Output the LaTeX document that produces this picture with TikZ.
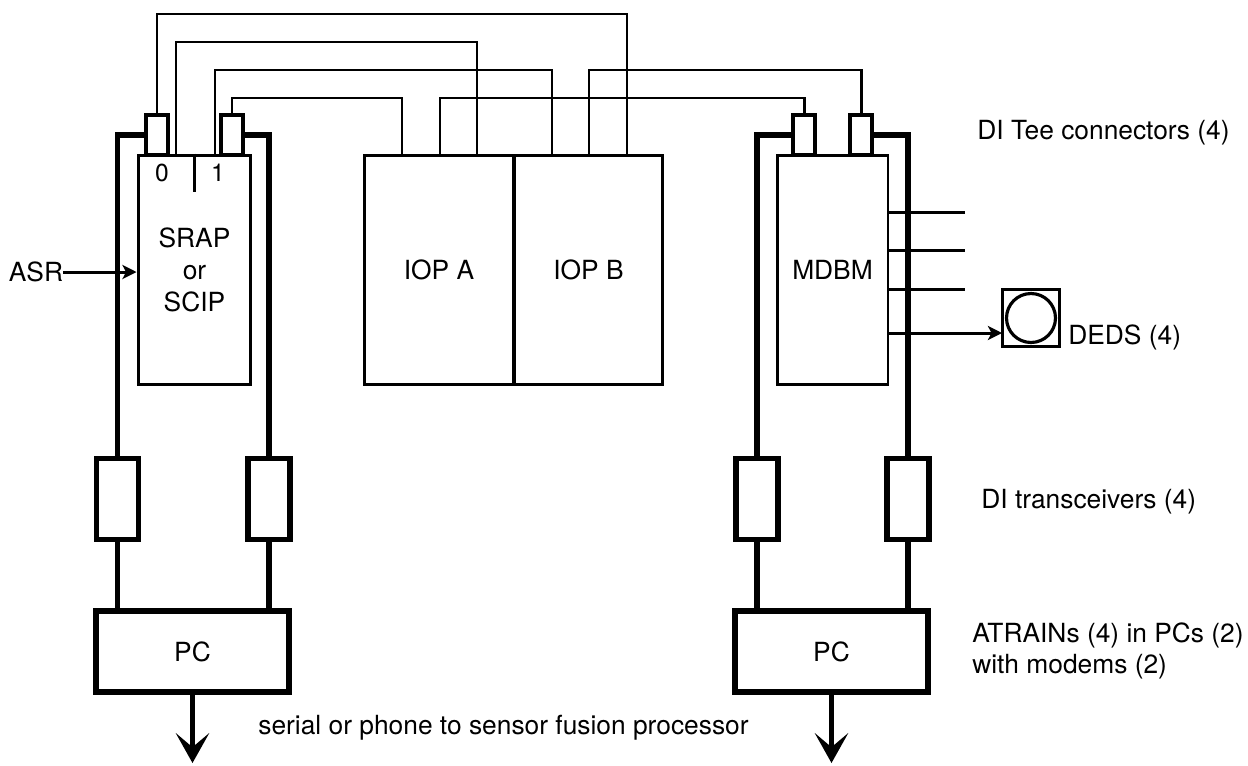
\documentclass[tikz,border=0pt]{standalone}
\usepackage{fontspec}
\setmainfont{TeX Gyre Heros}
\usetikzlibrary{arrows.meta}
\begin{document}
\begin{tikzpicture}[x=0.02cm, y=-0.02cm, every node/.style={font=\fontsize{15}{18}\selectfont, inner sep=0pt},
    box/.style={draw, line width=1.7pt, align=center, minimum height=4.6cm},
    conn/.style={draw, line width=2.4pt, minimum width=0.44cm, minimum height=0.8cm},
    xcvr/.style={draw, line width=3pt, minimum width=0.84cm, minimum height=1.62cm},
    pcbox/.style={draw, line width=3pt, minimum width=3.86cm, minimum height=1.62cm},
    wire/.style={line width=1.7pt}, frame/.style={line width=3.2pt},
    big/.style={-{Stealth[length=17pt, width=19pt, inset=8pt]}},
    small/.style={-{Stealth[length=8pt, width=8pt, inset=2pt]}}]
        \useasboundingbox (0,0) rectangle (1248,765);
        \node[box, minimum width=2.26cm] (srap) at (194.5,270) {SRAP\\or\\SCIP};
        \node[box, minimum width=3cm] (iopa) at (439,270) {IOP A};
        \node[box, minimum width=2.98cm] (iopb) at (588.5,270) {IOP B};
        \node[box, minimum width=2.22cm] (mdbm) at (832.5,270) {MDBM};
        \node[conn] (c0) at (157,135) {};
        \node[conn] (c1) at (232,135) {};
        \node[conn] (c2) at (804,135) {};
        \node[conn] (c3) at (861,135) {};
        \node[xcvr] (t0) at (117.5,499) {};
        \node[xcvr] (t1) at (269,499) {};
        \node[xcvr] (t2) at (757,499) {};
        \node[xcvr] (t3) at (908,499) {};
        \node[pcbox] (pc0) at (192.5,651.5) {PC};
        \node[pcbox] (pc1) at (831.5,651.5) {PC};
        \node[draw, line width=1.8pt, minimum size=1.14cm] (deds) at (1031,318) {};
        \node[draw, circle, line width=1.8pt, minimum size=0.98cm] (dedsc) at (deds.center) {};
        \node (n0) at (162,173) {\fontsize{14}{16}\selectfont 0};
        \node (n1) at (218,173) {\fontsize{14}{16}\selectfont 1};
        \node (asr) at (36,272) {ASR};
        \node[anchor=west] (tee) at (977,133) {DI Tee connectors (4)};
        \node[anchor=west] (dedsl) at (1068,337) {DEDS (4)};
        \node[anchor=west] (xcvrl) at (981,502) {DI transceivers (4)};
        \node[anchor=west, align=left] (atrain) at (972,651) {ATRAINs (4) in PCs (2)\\with modems (2)};
        \node[anchor=west] (serial) at (258,728) {serial or phone to sensor fusion processor};
        \coordinate (y1) at (0,14);
        \coordinate (y2) at (0,42);
        \coordinate (y3) at (0,70);
        \coordinate (y4) at (0,98);
        \coordinate (s1) at (176,155);
        \coordinate (s2) at (215,155);
        \coordinate (a1) at (402,155);
        \coordinate (a2) at (440,155);
        \coordinate (a3) at (477,155);
        \coordinate (b1) at (552,155);
        \coordinate (b2) at (589,155);
        \coordinate (b3) at (627,155);
        \coordinate (tee1) at (965,212);
        \coordinate (tee2) at (965,250);
        \coordinate (tee3) at (965,289);
        \coordinate (dedsin) at (1002,333);
        \coordinate (out0) at (192.5,763);
        \coordinate (out1) at (831.5,763);
        \draw[frame] (c0.west) -| (t0.north);
        \draw[frame] (c1.east) -| (t1.north);
        \draw[frame] (c2.west) -| (t2.north);
        \draw[frame] (c3.east) -| (t3.north);
        \foreach \t/\p in {t0/pc0, t1/pc0, t2/pc1, t3/pc1}
            \draw[frame] (\t.south) -- (\t.south |- \p.north);
        \draw[frame, big] (pc0.south) -- (out0);
        \draw[frame, big] (pc1.south) -- (out1);
        \draw[wire] (c0.north) -- (c0.north |- y1) -| (b3);
        \draw[wire] (s1) -- (s1 |- y2) -| (a3);
        \draw[wire] (s2) -- (s2 |- y3) -| (b1);
        \draw[wire] (c1.north) -- (c1.north |- y4) -| (a1);
        \draw[wire] (c2.north) -- (c2.north |- y4) -| (a2);
        \draw[wire] (c3.north) -- (c3.north |- y3) -| (b2);
        \draw[wire] (srap.north) -- ++(0,38);
        \draw[wire, small] (asr.east) -- (asr.east -| srap.west);
        \foreach \k in {tee1, tee2, tee3}
            \draw[wire] (mdbm.east |- \k) -- (\k);
        \draw[wire, small] (mdbm.east |- dedsin) -- (dedsin);
    \end{tikzpicture}
\end{document}
